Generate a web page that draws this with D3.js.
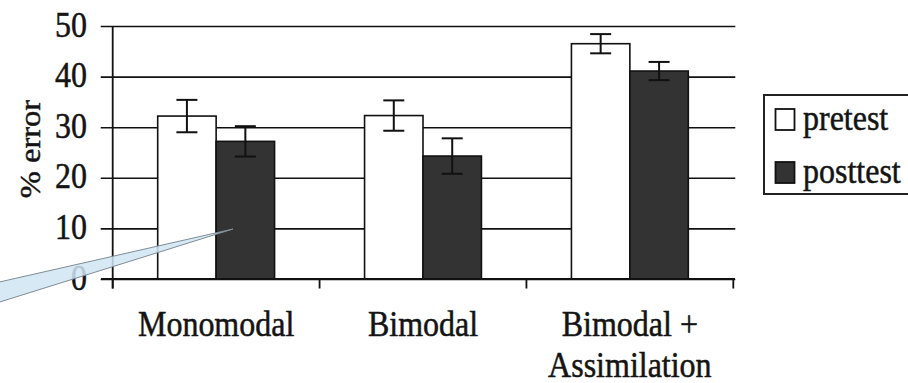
<!DOCTYPE html>
<html>
<head>
<meta charset="utf-8">
<script src="https://cdn.jsdelivr.net/npm/d3@7/dist/d3.min.js"></script>
<style>
  html, body { margin: 0; padding: 0; background: #fff; }
  svg { display: block; }
</style>
</head>
<body>
<svg id="chart" width="908" height="383"></svg>
<script>
// ---- data ----
const categories = ["Monomodal", "Bimodal", "Bimodal +\nAssimilation"];
const series = ["pretest", "posttest"];
const pretestValues = [32.2, 32.3, 46.5];
const pretestErrors = [3.2, 3.0, 1.9];
const posttestValues = [27.2, 24.3, 41.1];
const posttestErrors = [3.0, 3.5, 1.8];
const yTicks = [0, 10, 20, 30, 40, 50];
const yLabel = "% error";

const seriesValues = { pretest: pretestValues, posttest: posttestValues };
const seriesErrors = { pretest: pretestErrors, posttest: posttestErrors };
const seriesFill = { pretest: "#ffffff", posttest: "#333333" };

const FONT = "Liberation Serif";
const TXT = "#141414";
const svg = d3.select("#chart");
const SY = 1.14; // vertical stretch of text

const x0 = d3.scaleBand().domain(categories).range([112.7, 733.3]).padding(0);
const x1 = d3.scaleBand().domain(series).range([0, x0.bandwidth()])
  .paddingInner(0).paddingOuter(0.77);
const y = d3.scaleLinear().domain([0, 50]).range([279, 26]);

function addText(tx, ty, str, size, anchor, extra) {
  return svg.append("text")
    .attr("transform", extra || `translate(${tx},${ty}) scale(1,${SY})`)
    .attr("text-anchor", anchor)
    .attr("font-family", FONT)
    .attr("font-size", size)
    .attr("fill", TXT)
    .attr("stroke", TXT)
    .attr("stroke-width", 0.45)
    .text(str);
}

// gridlines + y ticks
const yAxis = d3.axisLeft(y).tickValues(yTicks).tickSize(-(733.3 - 112.7)).tickSizeOuter(0).tickFormat("");
const gy = svg.append("g").attr("transform", "translate(112.7,0)").call(yAxis);
gy.select(".domain").remove();
gy.selectAll(".tick line").attr("stroke", "#111").attr("stroke-width", 1.6)
  .attr("x1", -12).attr("x2", 733.3 - 112.7 + 2);

// y tick labels
yTicks.forEach(t => addText(87, y(t) + 10.5, t, 32, "end"));

// bars
const groups = svg.append("g").selectAll("g")
  .data(categories).join("g")
  .attr("transform", d => `translate(${x0(d)},0)`);

groups.each(function(cat, i) {
  const g = d3.select(this);
  series.forEach(s => {
    const v = seriesValues[s][i];
    g.append("rect")
      .attr("x", x1(s))
      .attr("y", y(v))
      .attr("width", x1.bandwidth())
      .attr("height", y(0) - y(v))
      .attr("fill", seriesFill[s])
      .attr("stroke", "#111")
      .attr("stroke-width", 1.6);
  });
  series.forEach(s => {
    const v = seriesValues[s][i], e = seriesErrors[s][i];
    const cx = x1(s) + x1.bandwidth() / 2;
    const eg = g.append("g").attr("stroke", "#111").attr("stroke-width", 2);
    eg.append("line").attr("x1", cx).attr("x2", cx).attr("y1", y(v + e)).attr("y2", y(v - e));
    eg.append("line").attr("x1", cx - 10.5).attr("x2", cx + 10.5).attr("y1", y(v + e)).attr("y2", y(v + e));
    eg.append("line").attr("x1", cx - 10.5).attr("x2", cx + 10.5).attr("y1", y(v - e)).attr("y2", y(v - e));
  });
});

// x axis line and category ticks
svg.append("line").attr("x1", 101).attr("x2", 735).attr("y1", y(0)).attr("y2", y(0))
  .attr("stroke", "#111").attr("stroke-width", 1.8);
const xTickPos = categories.map(c => x0(c)).concat([x0(categories[categories.length - 1]) + x0.bandwidth()]);
xTickPos.forEach(px => {
  svg.append("line").attr("x1", px).attr("x2", px).attr("y1", y(0)).attr("y2", 288.5)
    .attr("stroke", "#111").attr("stroke-width", 1.8);
});
// y axis line
svg.append("line").attr("x1", 112.7).attr("x2", 112.7).attr("y1", y(50)).attr("y2", 288.5)
  .attr("stroke", "#111").attr("stroke-width", 1.8);

// category labels
categories.forEach(c => {
  c.split("\n").forEach((ln, k) => {
    addText(x0(c) + x0.bandwidth() / 2, 336 + k * 41, ln, 32, "middle");
  });
});

// y label
addText(0, 0, yLabel, 28.5, "middle", `translate(40,149) rotate(-90) scale(${SY},1)`);

// legend
const lg = svg.append("g");
lg.append("rect").attr("x", 764).attr("y", 95).attr("width", 170).attr("height", 99)
  .attr("fill", "#fff").attr("stroke", "#222").attr("stroke-width", 2);
series.forEach((s, k) => {
  lg.append("rect").attr("x", 775.5).attr("y", 109 + k * 53).attr("width", 19).attr("height", 21)
    .attr("fill", seriesFill[s]).attr("stroke", "#111").attr("stroke-width", 1.8);
  addText(803, 130 + k * 53, s, 32, "start");
});

// callout pointer (annotation)
svg.append("path")
  .attr("d", "M-5,283 L233,229 L-5,303.5 Z")
  .attr("fill", "#cfe5f3")
  .attr("fill-opacity", 0.85)
  .attr("stroke", "#7f8c96")
  .attr("stroke-width", 1);
</script>
</body>
</html>
